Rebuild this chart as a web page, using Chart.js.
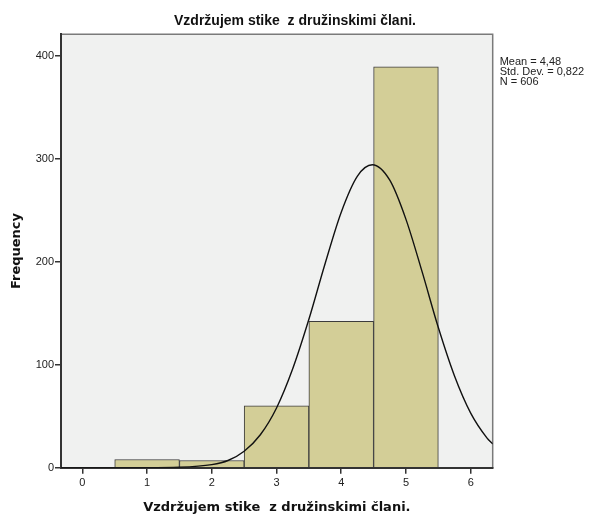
<!DOCTYPE html>
<html>
<head>
<meta charset="utf-8">
<script src="https://cdn.jsdelivr.net/npm/chart.js@4.4.1/dist/chart.umd.min.js"></script>
<style>
  html, body { margin: 0; padding: 0; background: #ffffff; }
  #wrap { width: 590px; height: 519px; }
</style>
</head>
<body>
<div id="wrap"><canvas id="myCanvas" width="590" height="519"></canvas></div>
<script>
// histogram bins (bin centre) and counts
const binCenters = [1, 2, 3, 4, 5];
const binCounts = [8, 7, 60, 142, 389];

// normal curve
const curveX = [-0.33, 0.5, 1, 1.5, 2, 2.25, 2.5, 2.75, 3, 3.25, 3.5, 3.75, 4, 4.25, 4.48, 4.75, 5, 5.25, 5.5, 5.75, 6, 6.25, 6.34];
const curveY = [0, 0, 0, 0.4, 3, 7, 16, 32, 58, 96, 144, 198, 248, 283, 294, 279, 241, 190, 136, 89, 53, 29, 23];

const xTicks = [0, 1, 2, 3, 4, 5, 6];
const yTicks = [0, 100, 200, 300, 400];

const titleText = "Vzdržujem stike  z družinskimi člani.";
const statLines = ["Mean = 4,48", "Std. Dev. = 0,822", "N = 606"];

const sansFont = "'Liberation Sans', Arial, sans-serif";

const plotFrame = {
  id: "plotFrame",
  beforeDraw(chart) {
    const ctx = chart.ctx;
    const a = chart.chartArea;
    ctx.save();
    ctx.fillStyle = "#f0f1f0";
    ctx.fillRect(a.left, a.top, a.right - a.left, a.bottom - a.top);
    ctx.strokeStyle = "#7a7a7a";
    ctx.lineWidth = 1.5;
    ctx.beginPath();
    ctx.moveTo(a.left, a.top);
    ctx.lineTo(a.right, a.top);
    ctx.lineTo(a.right, a.bottom);
    ctx.stroke();
    ctx.restore();
  },
  afterDraw(chart) {
    const ctx = chart.ctx;
    const a = chart.chartArea;
    ctx.save();
    ctx.fillStyle = "#222";
    ctx.font = "11px " + sansFont;
    ctx.textBaseline = "middle";
    statLines.forEach((s, i) => {
      ctx.fillText(s, a.right + 7, a.top + 28 + i * 10);
    });
    ctx.restore();
  }
};

const data = {
  datasets: [
    {
      type: "line",
      data: curveX.map((x, i) => ({ x: x, y: curveY[i] })),
      borderColor: "#111",
      borderWidth: 1.4,
      pointRadius: 0,
      cubicInterpolationMode: "monotone",
      fill: false,
    },
    {
      type: "bar",
      data: binCenters.map((x, i) => ({ x: x, y: binCounts[i] })),
      backgroundColor: "#d3ce97",
      borderColor: "#3c3c3c",
      borderWidth: 1,
      barPercentage: 1,
      categoryPercentage: 1,
    },
  ],
};

const config = {
  type: "bar",
  data: data,
  options: {
    responsive: false,
    animation: false,
    layout: { padding: 0 },
    plugins: {
      legend: { display: false },
      tooltip: { enabled: false },
      title: {
        display: true,
        text: titleText,
        color: "#111",
        font: { family: sansFont, size: 14, weight: "bold" },
        padding: { top: 12.5, bottom: 5 },
      },
    },
    scales: {
      x: {
        type: "linear",
        min: -0.33,
        max: 6.34,
        offset: false,
        z: 1,
        afterBuildTicks: (scale) => {
          scale.ticks = xTicks.map((v) => ({ value: v }));
        },
        afterFit: (scale) => {
          scale.height = 51.3;
        },
        ticks: {
          color: "#222",
          font: { family: sansFont, size: 11 },
          padding: 3,
          maxRotation: 0,
        },
        grid: { offset: false, drawOnChartArea: false, tickLength: 6, color: "#333", lineWidth: 1.5 },
        border: { color: "#333", width: 2 },
        title: {
          display: true,
          text: titleText,
          color: "#111",
          font: { family: "'DejaVu Sans', sans-serif", size: 13, weight: "bold" },
          padding: { top: 0, bottom: 3.5 },
        },
      },
      y: {
        min: 0,
        max: 420.6,
        z: 1,
        afterBuildTicks: (scale) => {
          scale.ticks = yTicks.map((v) => ({ value: v }));
        },
        afterFit: (scale) => {
          scale.width = 61;
        },
        ticks: {
          color: "#222",
          font: { family: sansFont, size: 11 },
          padding: 1,
        },
        grid: { drawOnChartArea: false, tickLength: 6, color: "#333", lineWidth: 1.5 },
        border: { color: "#333", width: 2 },
        title: {
          display: true,
          text: "Frequency",
          color: "#111",
          font: { family: "'DejaVu Sans', sans-serif", size: 13, weight: "bold" },
          padding: { top: 9, bottom: 0 },
        },
      },
      yRight: {
        position: "right",
        display: true,
        afterFit: (scale) => {
          scale.width = 97.3;
        },
        ticks: { display: false },
        grid: { display: false },
        border: { display: false },
      },
    },
  },
  plugins: [plotFrame],
};

const myChart = new Chart(document.querySelector("#myCanvas"), config);
</script>
</body>
</html>
